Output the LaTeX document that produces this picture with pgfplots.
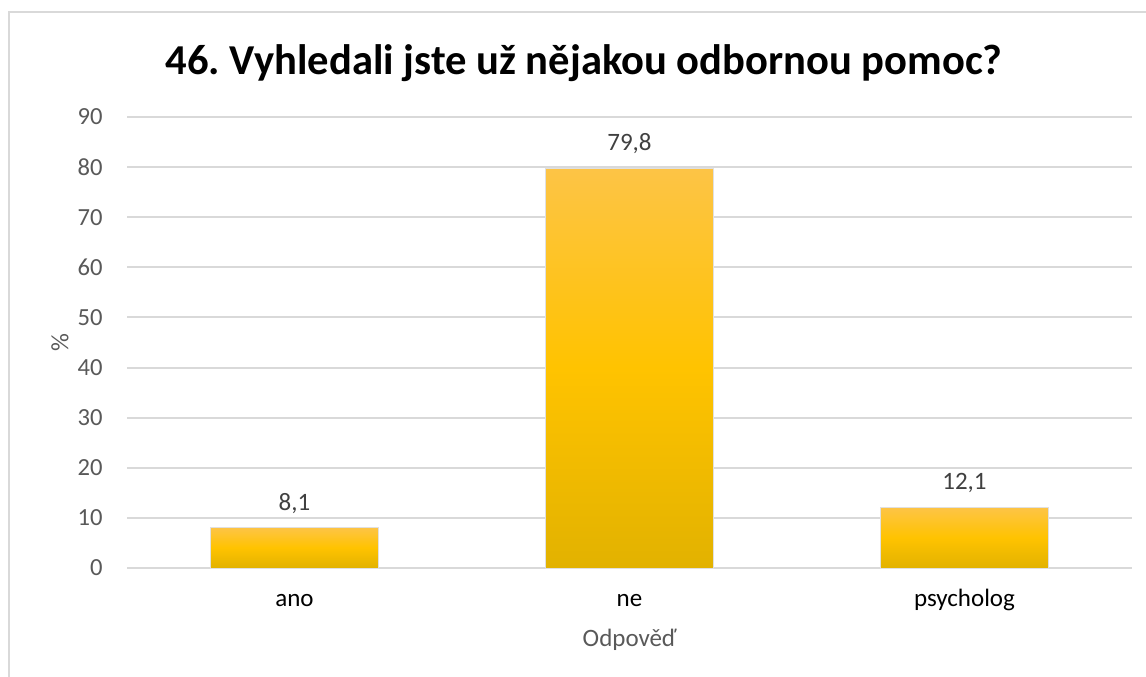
\documentclass[border=0pt]{standalone}
\usepackage{pgfplots}
\pgfplotsset{compat=1.18}
\usepackage{fontspec}
\setmainfont{Carlito}
\frenchspacing
\definecolor{gridc}{HTML}{D9D9D9}
\definecolor{tickc}{HTML}{595959}
\definecolor{lblc}{HTML}{404040}
\definecolor{bartop}{HTML}{FDC446}
\definecolor{barmid}{HTML}{FFC300}
\definecolor{barbot}{HTML}{E2B200}
\begin{document}
\begin{tikzpicture}
\useasboundingbox (0,0) rectangle (573pt,338pt);
\draw[gridc, line width=1pt] (4.5pt,-5pt) -- (4.5pt,332pt) -- (580pt,332pt);
\node[font=\fontsize{21.3}{25}\selectfont\bfseries] at (292pt,306.5pt) {46. Vyhledali jste už nějakou odbornou pomoc?};
\begin{axis}[
  at={(63.5pt,54pt)}, anchor=south west,
  scale only axis, width=502.5pt, height=225.5pt,
  xmin=-0.5, xmax=2.5, ymin=0, ymax=90,
  ytick={0,10,...,90},
  xtick={0,1,2}, xticklabels={ano,ne,psycholog},
  ymajorgrids, major grid style={gridc, line width=1pt},
  axis line style={draw=none}, major tick length=0pt,
  /pgf/number format/assume math mode=true,
  yticklabel style={font=\fontsize{12.3}{14}\selectfont, color=tickc, anchor=east, inner sep=0pt, xshift=-12pt},
  xticklabel style={font=\fontsize{12.5}{15}\selectfont, color=black, anchor=base, inner sep=0pt, yshift=-19pt},
  xlabel={Odpověď}, ylabel={\%},
  every axis x label/.style={at={(axis description cs:0.5,0)}, anchor=center, yshift=-36pt, font=\fontsize{12.5}{15}\selectfont, color=tickc},
  every axis y label/.style={at={(axis description cs:0,0.5)}, xshift=-33.5pt, rotate=90, anchor=center, font=\fontsize{12.5}{15}\selectfont, color=tickc},
  ybar, bar width=0.5, bar shift=0pt,
  nodes near coords={\pgfmathprintnumber[fixed, fixed zerofill, precision=1, use comma]{\pgfplotspointmeta}},
  every node near coord/.append style={font=\fontsize{12.5}{15}\selectfont, color=lblc, anchor=base, inner sep=0pt, yshift=8.7pt},
  barstyle/.style={draw=black!12, line width=0.5pt, top color=bartop, bottom color=barbot, middle color=barmid},
]
\addplot[barstyle] coordinates {(0,8.1)};
\addplot[barstyle] coordinates {(1,79.8)};
\addplot[barstyle] coordinates {(2,12.1)};
\end{axis}
\end{tikzpicture}
\end{document}
